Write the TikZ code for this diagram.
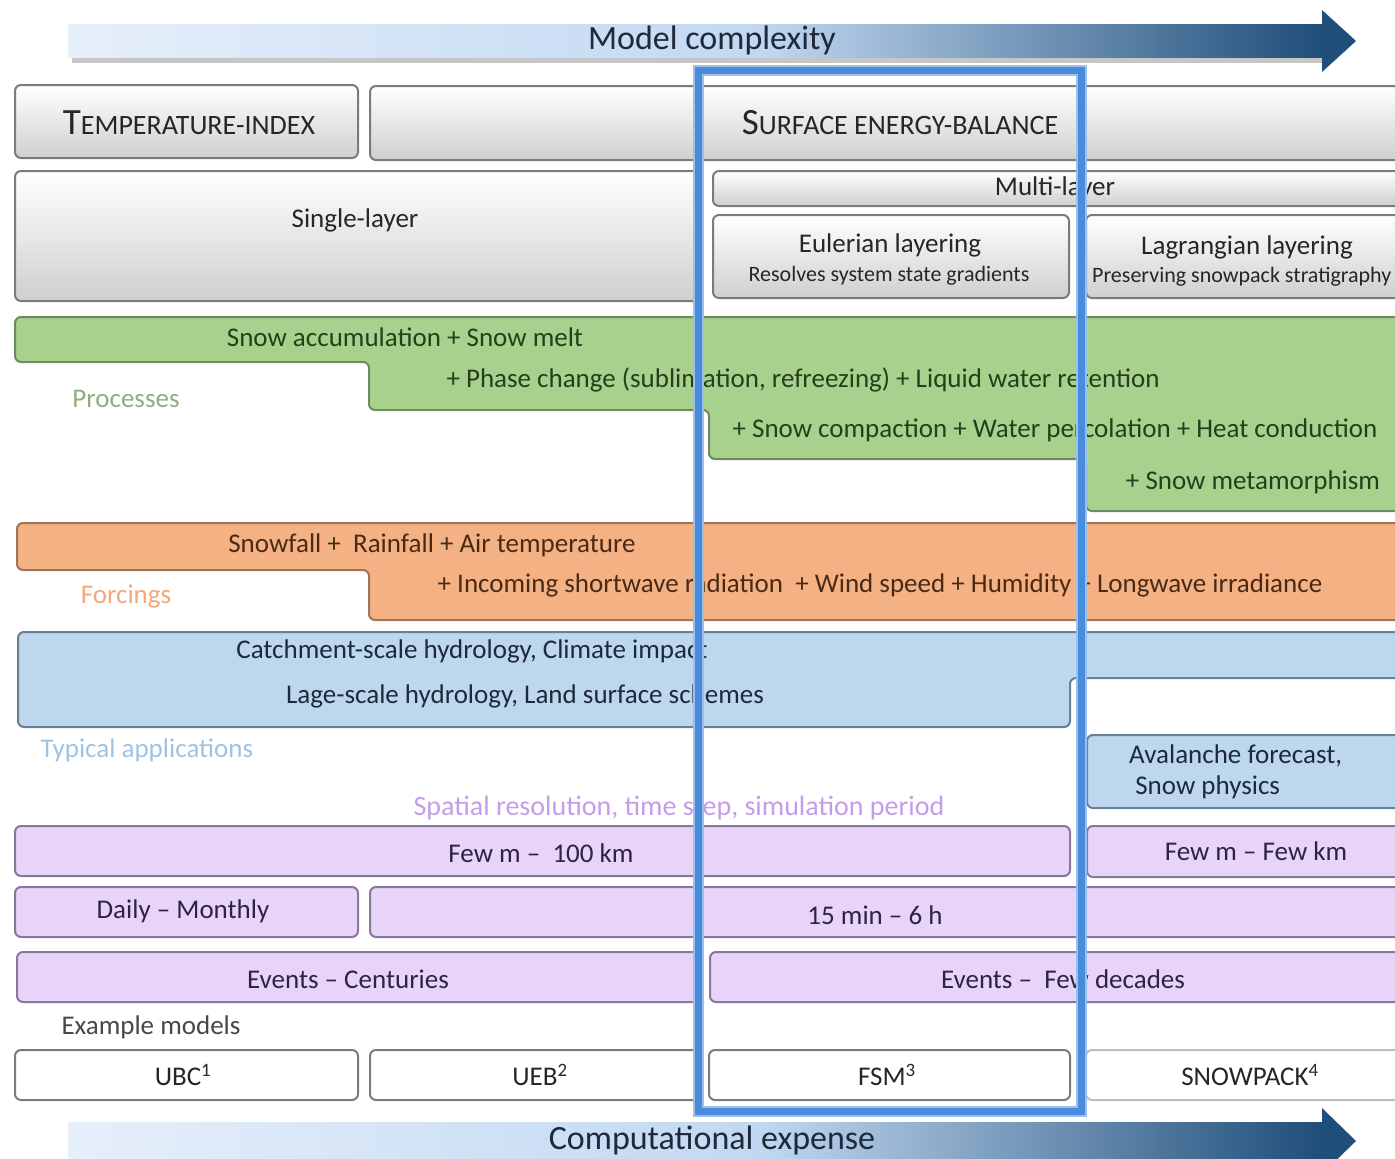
\documentclass[tikz,border=0pt]{standalone}
\usepackage{fontspec}
\setmainfont{Carlito}
\definecolor{boxline}{HTML}{7B7B7B}
\definecolor{graybot}{HTML}{CFCFCF}
\definecolor{procfill}{HTML}{A9D18E}
\definecolor{procline}{HTML}{6E8A60}
\definecolor{proctext}{HTML}{24401A}
\definecolor{proclabel}{HTML}{8FAE80}
\definecolor{forcfill}{HTML}{F4B183}
\definecolor{forcline}{HTML}{A07458}
\definecolor{forctext}{HTML}{4A2A14}
\definecolor{forclabel}{HTML}{F2A878}
\definecolor{appfill}{HTML}{BDD7EE}
\definecolor{appline}{HTML}{6C7E92}
\definecolor{apptext}{HTML}{1E2A3A}
\definecolor{applabel}{HTML}{9DC3E6}
\definecolor{resfill}{HTML}{E8D4F8}
\definecolor{resline}{HTML}{86789A}
\definecolor{restext}{HTML}{2E2440}
\definecolor{reslabel}{HTML}{C49CEA}
\definecolor{arrlight}{HTML}{E6EFFA}
\definecolor{arrmid}{HTML}{C2D8F2}
\definecolor{arrdark}{HTML}{1F4E79}
\definecolor{selblue}{HTML}{4A8CDC}
\definecolor{darktext}{HTML}{262626}
\newcommand\bigfirst[2]{{\fontsize{37}{40}\selectfont #1}{\fontsize{28}{31}\selectfont #2}}
\tikzset{
  frame/.style={draw=#1, line width=2pt, rounded corners=6pt},
  graybox/.style={frame=boxline, top color=white, bottom color=graybot},
  procbox/.style={frame=procline, fill=procfill},
  forcbox/.style={frame=forcline, fill=forcfill},
  appbox/.style={frame=appline, fill=appfill},
  resbox/.style={frame=resline, fill=resfill},
  modelbox/.style={frame=boxline, fill=white},
  txt/.style={inner sep=0pt, text=darktext},
  small/.style={txt, font=\fontsize{22}{25}\selectfont},
  rowlabel/.style={inner sep=0pt, font=\fontsize{27}{30}\selectfont},
  arrowtxt/.style={txt, text=apptext, font=\fontsize{34}{38}\selectfont},
}
\begin{document}
\begin{tikzpicture}[x=1pt, y=-1pt, font=\fontsize{27}{31}\selectfont]
  \useasboundingbox (0,0) rectangle (1395,1159);
  \clip (0,0) rectangle (1395,1159);

  % Model complexity arrow
  \fill[gray!45] (72,57) rectangle (1322,63);
  \shade[left color=arrlight, right color=arrmid] (68,24) rectangle (761,57);
  \shade[left color=arrmid, right color=arrdark] (760,24) rectangle (1323,57);
  \fill[arrdark] (1322,10) -- (1356,41) -- (1322,72) -- cycle;
  \node[arrowtxt] (complexity) at (712,40) {Model complexity};

  % Model types
  \draw[graybox] (15,85) rectangle (358,158);
  \node[txt] (tempidx) at (189,123) {\bigfirst{T}{EMPERATURE-INDEX}};
  \draw[graybox] (370,86) rectangle (1420,160);
  \node[txt] (seb) at (900,123) {\bigfirst{S}{URFACE ENERGY-BALANCE}};

  % Layering
  \draw[graybox] (15,171) rectangle (700,301);
  \node[txt] (single) at (355,220) {Single-layer};
  \draw[graybox] (713,171) rectangle (1420,206);
  \node[txt] (multi) at (1055,188) {Multi-layer};
  \draw[graybox] (713,215) rectangle (1069,298);
  \node[txt] (euler) at (890,245) {Eulerian layering};
  \node[small] (eulersub) at (889,276) {Resolves system state gradients};
  \draw[graybox] (1086,215) rectangle (1420,298);
  \node[txt] (lagrange) at (1247,247) {Lagrangian layering};
  \node[small, anchor=west] (lagrangesub) at (1092,277) {Preserving snowpack stratigraphy};

  % Processes
  \draw[procbox] (15,317) -- (1420,317) -- (1420,511) -- (1086,511) -- (1086,459) -- (709,459)
    -- (709,410) -- (369,410) -- (369,362) -- (15,362) -- cycle;
  \node[rowlabel, text=proclabel] (processes) at (126,399) {Processes};
  \node[txt, text=proctext] (proc1) at (405,337) {Snow accumulation + Snow melt};
  \node[txt, text=proctext] (proc2) at (803,380) {+ Phase change (sublimation, refreezing) + Liquid water retention};
  \node[txt, text=proctext] (proc3) at (1055,430) {+ Snow compaction + Water percolation + Heat conduction};
  \node[txt, text=proctext] (proc4) at (1253,482) {+ Snow metamorphism};

  % Forcings
  \draw[forcbox] (17,523) -- (1420,523) -- (1420,620) -- (369,620) -- (369,570) -- (17,570) -- cycle;
  \node[rowlabel, text=forclabel] (forcings) at (126,597) {Forcings};
  \node[txt, text=forctext] (forc1) at (432,545) {Snowfall +\ \ Rainfall + Air temperature};
  \node[txt, text=forctext] (forc2) at (880,585) {+ Incoming shortwave radiation\ \ + Wind speed + Humidity + Longwave irradiance};

  % Typical applications
  \draw[appbox] (18,632) -- (1420,632) -- (1420,678) -- (1070,678) -- (1070,727) -- (18,727) -- cycle;
  \draw[appbox] (1087,735) rectangle (1420,808);
  \node[rowlabel, text=applabel] (applications) at (147,750) {Typical applications};
  \node[txt, text=apptext] (app1) at (472,651) {Catchment-scale hydrology, Climate impact};
  \node[txt, text=apptext] (app2) at (525,696) {Lage-scale hydrology, Land surface schemes};
  \node[txt, text=apptext, align=left, anchor=west] (app3) at (1129,772) {Avalanche forecast,\\\ Snow physics};

  % Resolution
  \node[rowlabel, font=\fontsize{28}{31}\selectfont, text=reslabel] (resolution) at (679,808) {Spatial resolution, time step, simulation period};
  \draw[resbox] (15,826) rectangle (1070,876);
  \node[txt, text=restext] (space1) at (541,853) {Few m --\ \ 100 km};
  \draw[resbox] (1087,826) rectangle (1420,877);
  \node[txt, text=restext] (space2) at (1256,851) {Few m -- Few km};
  \draw[resbox] (15,887) rectangle (358,937);
  \node[txt, text=restext] (step1) at (183,911) {Daily -- Monthly};
  \draw[resbox] (370,887) rectangle (1420,937);
  \node[txt, text=restext] (step2) at (875,915) {15 min -- 6 h};
  \draw[resbox] (17,952) rectangle (700,1002);
  \node[txt, text=restext] (period1) at (348,979) {Events -- Centuries};
  \draw[resbox] (710,952) rectangle (1420,1002);
  \node[txt, text=restext] (period2) at (1063,979) {Events --\ \ Few decades};

  % Example models
  \node[rowlabel, text=darktext!85] (examples) at (151,1027) {Example models};
  \draw[modelbox] (15,1050) rectangle (358,1100);
  \node[txt] (ubc) at (183,1075) {UBC\textsuperscript{1}};
  \draw[modelbox] (370,1050) rectangle (700,1100);
  \node[txt] (ueb) at (540,1075) {UEB\textsuperscript{2}};
  \draw[modelbox] (709,1050) rectangle (1070,1100);
  \node[txt] (fsm) at (887,1075) {FSM\textsuperscript{3}};
  \draw[modelbox, draw=boxline!50] (1086,1050) rectangle (1420,1100);
  \node[txt] (snowpack) at (1250,1075) {SNOWPACK\textsuperscript{4}};

  % Computational expense arrow
  \shade[left color=arrlight, right color=arrmid] (68,1122) rectangle (761,1160);
  \shade[left color=arrmid, right color=arrdark] (760,1122) rectangle (1323,1160);
  \fill[arrdark] (1322,1108) -- (1356,1141) -- (1322,1174) -- cycle;
  \node[arrowtxt] (expense) at (712,1140) {Computational expense};

  % Selected model frame
  \draw[draw=selblue!55, line width=11pt] (698,70) rectangle (1081,1111);
  \draw[draw=selblue, line width=7pt] (698,70) rectangle (1081,1111);
\end{tikzpicture}
\end{document}
